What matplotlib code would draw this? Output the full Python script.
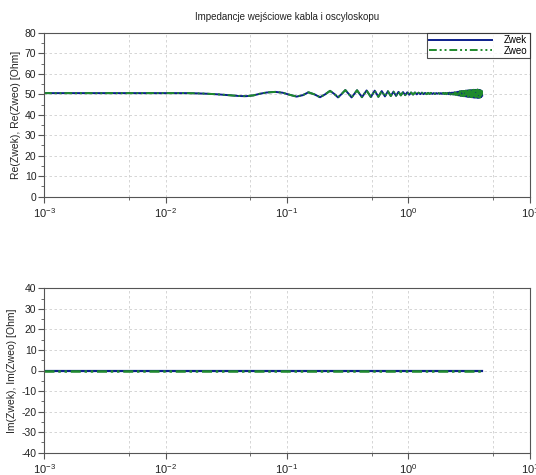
import numpy as np
import matplotlib
matplotlib.use("Agg")
from matplotlib import pyplot as plt
from matplotlib.ticker import LogLocator, MultipleLocator, LogFormatterSciNotation

plt.rcParams['font.family'] = ['Liberation Sans', 'DejaVu Sans']
plt.rcParams['mathtext.fontset'] = 'custom'
plt.rcParams['mathtext.rm'] = 'Liberation Sans'
plt.rcParams['mathtext.default'] = 'regular'
plt.rcParams['axes.unicode_minus'] = False

# frequency points (log axis, 1e-3 .. ~4)
re_freq = [0.001, 0.005, 0.01, 0.015, 0.018, 0.022, 0.027, 0.033, 0.040, 0.046,
           0.053, 0.060, 0.068, 0.080, 0.092, 0.105, 0.120, 0.135, 0.150, 0.168,
           0.187, 0.206, 0.226, 0.245, 0.263, 0.283, 0.302, 0.321, 0.340, 0.358,
           0.377, 0.396, 0.414, 0.433, 0.452, 0.490, 0.527, 0.565, 0.602, 0.640,
           0.677, 0.715, 0.752, 0.790, 0.827, 0.865, 0.902, 0.940, 0.977, 1.015,
           1.05, 1.09, 1.13, 1.17, 1.21, 1.25, 1.29, 1.33, 1.37, 1.41,
           1.45, 1.49, 1.53, 1.57, 1.61, 1.65, 1.69, 1.73, 1.77, 1.81,
           1.85, 1.89, 1.93, 1.97, 2.01, 2.05, 2.09, 2.13, 2.17, 2.21,
           2.25, 2.29, 2.33, 2.37, 2.41, 2.45, 2.49, 2.53, 2.57, 2.61,
           2.65, 2.69, 2.73, 2.77, 2.81, 2.85, 2.89, 2.93, 2.97, 3.01,
           3.05, 3.09, 3.13, 3.17, 3.21, 3.25, 3.29, 3.33, 3.37, 3.41,
           3.45, 3.49, 3.53, 3.57, 3.61, 3.65, 3.69, 3.73, 3.77, 3.81,
           3.85, 3.89, 3.93, 3.97, 4.01, 4.04]

re_zwek = [50.6, 50.6, 50.6, 50.6, 50.5, 50.3, 50.0, 49.6, 49.2, 49.1,
           49.5, 50.3, 50.9, 51.2, 50.8, 49.8, 48.9, 49.6, 51.0, 50.0,
           48.6, 50.0, 51.7, 50.2, 48.5, 50.3, 52.1, 50.3, 48.5, 50.2,
           52.0, 50.2, 48.6, 50.3, 51.9, 48.7, 51.8, 48.8, 51.6, 49.0,
           51.5, 49.2, 51.3, 49.3, 51.2, 49.5, 51.1, 49.6, 51.0, 49.8,
           50.9, 49.9, 50.9, 50.0, 50.8, 50.1, 50.8, 50.1, 50.7, 50.1,
           50.7, 50.2, 50.7, 50.2, 50.6, 50.2, 50.6, 50.3, 50.6, 50.3,
           50.6, 50.2, 50.7, 50.2, 50.7, 50.1, 50.7, 50.1, 50.8, 50.0,
           50.8, 50.0, 50.9, 49.9, 51.0, 49.8, 51.1, 49.6, 51.3, 49.4,
           51.5, 49.3, 51.6, 49.2, 51.6, 49.1, 51.7, 49.0, 51.8, 48.9,
           51.9, 48.8, 51.9, 48.8, 52.0, 48.7, 52.0, 48.6, 52.1, 48.5,
           52.2, 48.4, 52.2, 48.5, 52.1, 48.4, 52.3, 48.3, 52.2, 48.4,
           52.1, 48.5, 51.9, 48.7, 51.6, 49.5]
re_zweo = re_zwek

im_freq = [0.001, 4.04]
im_zwek = [0.0, 0.0]
im_zweo = [0.0, 0.0]

title = "Impedancje wejściowe kabla i oscyloskopu"
blue = '#0b1f8c'
green = '#1f8a2c'

fig = plt.figure(figsize=(5.36, 4.75), dpi=100)
ax1 = fig.add_axes([0.0821, 0.586, 0.9067, 0.3446])
ax2 = fig.add_axes([0.0821, 0.047, 0.9067, 0.346])


def style(ax, ylo, yhi, ylabel):
    ax.set_xscale('log')
    ax.set_xlim(1e-3, 10)
    ax.set_ylim(ylo, yhi)
    ax.xaxis.set_major_locator(LogLocator(base=10, numticks=10))
    ax.xaxis.set_minor_locator(LogLocator(base=10, subs=[5.0], numticks=10))
    ax.xaxis.set_major_formatter(LogFormatterSciNotation())
    ax.yaxis.set_major_locator(MultipleLocator(10))
    ax.yaxis.set_minor_locator(MultipleLocator(5))
    ax.grid(True, which='both', axis='x', color='#cfcfcf', linestyle=(0, (3, 3)), linewidth=0.6)
    ax.grid(True, which='major', axis='y', color='#cfcfcf', linestyle=(0, (3, 3)), linewidth=0.6)
    for s in ax.spines.values():
        s.set_color('#555555')
        s.set_linewidth(0.8)
    ax.tick_params(which='major', direction='out', length=4, width=0.8,
                   colors='#555555', labelcolor='#222222', labelsize=7.5, pad=1.5)
    ax.tick_params(axis='x', which='major', labelsize=8, pad=3)
    ax.tick_params(which='minor', direction='out', length=2, width=0.6, colors='#555555')
    ax.set_ylabel(ylabel, fontsize=7.5, color='#222222', labelpad=3)


style(ax1, 0, 80, "Re(Zwek), Re(Zweo) [Ohm]")
style(ax2, -40, 40, "Im(Zwek), Im(Zweo) [Ohm]")

ax1.plot(re_freq, re_zwek, color=blue, lw=1.4, label='Zwek')
ax1.plot(re_freq, re_zweo, color=green, lw=1.4, dashes=(4, 1.5, 1, 1.5, 1, 1.5), label='Zweo')
ax2.plot(im_freq, im_zwek, color=blue, lw=1.6)
ax2.plot(im_freq, im_zweo, color=green, lw=1.8, dashes=(4, 1.5, 1, 1.5, 1, 1.5))

ax1.set_title(title, fontsize=7, color='#222222', pad=9)

leg = ax1.legend(loc='upper right', fontsize=7, frameon=True, fancybox=False,
                 borderaxespad=0, handlelength=6.5, handletextpad=1.2,
                 borderpad=0.25, labelspacing=0.05, markerfirst=True)
leg.get_frame().set_edgecolor('#222222')
leg.get_frame().set_linewidth(0.8)

fig.savefig('out.png', dpi=100)
